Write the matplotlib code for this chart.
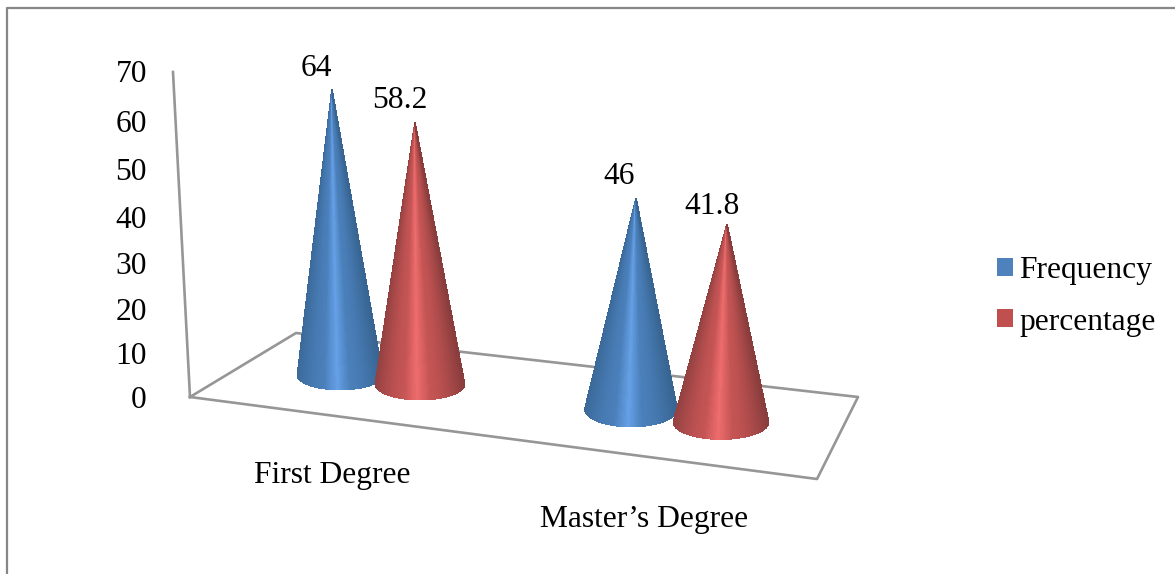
# Cone chart: frequency and percentage by degree, drawn by hand on a pixel-sized axes

import numpy as np
import matplotlib
matplotlib.use("Agg")
import matplotlib.pyplot as plt
from matplotlib.collections import PolyCollection
from matplotlib.patches import Patch

categories = ["First Degree", "Master\u2019s Degree"]
series_names = ["Frequency", "percentage"]
frequency = [64, 46]
percentage = [58.2, 41.8]
tick_values = [0, 10, 20, 30, 40, 50, 60, 70]

plt.rcParams['font.family'] = ['Liberation Serif', 'DejaVu Serif']
FS = 22.7
TEXT_DY = 3  # va="center" sits a bit high for this font

# base centre x, base centre y, half width, half height, apex shift, px per unit
layout = {
    "Frequency": [(340, 375, 42.5, 14.5, -8, 4.45), (631, 409, 46, 17.5, 5, 4.57)],
    "percentage": [(420, 384, 44.5, 15.5, -5, 4.48), (721, 422, 47.5, 17, 6, 4.72)],
}
ramps = {
    "Frequency": ("#386592", "#4a7fba", "#65a0e6"),
    "percentage": ("#8a3d3d", "#c45454", "#ee6c6c"),
}
swatches = {"Frequency": "#4f81bd", "percentage": "#c0504d"}


def wall_y(v):
    # the back wall is slightly foreshortened, ticks are not evenly spaced
    return 397 - 4.3 * v - 0.005 * v ** 2


def wall_x(v):
    return 190 - 17 * v / 70


def hex_rgb(c):
    return np.array(matplotlib.colors.to_rgb(c))


def shade(s, ramp):
    # s runs 0..1 from left edge to right edge of the cone
    dark, mid, light = [hex_rgb(c) for c in ramp]
    d = abs(s - 0.52) / 0.52
    if d < 0.3:
        return light + (mid - light) * (d / 0.3)
    return mid + (dark - mid) * min((d - 0.3) / 0.7, 1.0) ** 1.5


def draw_cone(ax, value, geom, ramp):
    cx, cy, rx, ry, shift, scale = geom
    apex = (cx + shift, cy - value * scale)
    angles = np.linspace(np.pi, 0, 121)
    polys, colors = [], []
    for a0, a1 in zip(angles[:-1], angles[1:]):
        p0 = (cx + rx * np.cos(a0), cy + ry * np.sin(a0))
        p1 = (cx + rx * np.cos(a1), cy + ry * np.sin(a1))
        polys.append([apex, p0, p1])
        colors.append(shade(0.5 - 0.5 * np.cos((a0 + a1) / 2), ramp))
    ax.add_collection(PolyCollection(polys, facecolors=colors, edgecolors=colors, linewidths=0.6,
                                     antialiaseds=False, zorder=3))


fig = plt.figure(figsize=(11.75, 5.74), dpi=100)
ax = fig.add_axes([0, 0, 1, 1])
ax.set_xlim(0, 1175)
ax.set_ylim(574, 0)
ax.axis("off")

# outer chart frame
ax.plot([7, 7, 1175], [574, 8, 8], color="#868686", lw=1.6, zorder=1)

# walls and floor
grey = "#969696"
ax.plot([wall_x(tick_values[0]), wall_x(tick_values[-1])], [wall_y(tick_values[0]), 72], color=grey, lw=1.9, zorder=1)
ax.plot([190, 296, 858, 817, 190], [397, 333, 397, 479, 397], color=grey, lw=1.9, zorder=1)

for v in tick_values:
    ax.text(147, wall_y(v) + TEXT_DY, str(v), ha="right", va="center", fontsize=FS, color="black")

# later series sits in front of earlier one
values = {"Frequency": frequency, "percentage": percentage}
label_pos = {"Frequency": [(316, 65), (619, 174)], "percentage": [(400, 98), (712, 203)]}
for i in range(len(categories)):
    for name in series_names:
        draw_cone(ax, values[name][i], layout[name][i], ramps[name])
        x, y = label_pos[name][i]
        ax.text(x, y + TEXT_DY, f"{values[name][i]}", ha="center", va="center", fontsize=FS, color="black", zorder=5)

ax.text(332, 473 + TEXT_DY, categories[0], ha="center", va="center", fontsize=FS, color="black")
ax.text(644, 517 + TEXT_DY, categories[1], ha="center", va="center", fontsize=FS, color="black")

handles = [Patch(facecolor=swatches[n], edgecolor="none", label=n) for n in series_names]
ax.legend(handles=handles, loc="center left", bbox_to_anchor=(988 / 1175, 1 - 296.5 / 574), frameon=False,
          fontsize=FS, handlelength=0.5, handleheight=0.5, handletextpad=0.19, labelspacing=0.70,
          borderpad=0, borderaxespad=0.3)

fig.savefig("out.png", dpi=100)
